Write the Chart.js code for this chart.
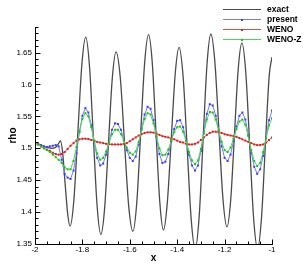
<!DOCTYPE html>
<html><head><meta charset="utf-8">
<script src="https://cdn.jsdelivr.net/npm/chart.js@4.4.1/dist/chart.umd.min.js"></script>
<style>
html,body{margin:0;padding:0;background:#fff;}
#wrap{position:relative;width:303px;height:268px;}
#c{position:absolute;left:0;top:0;}
.lg{position:absolute;font:bold 8.5px "Liberation Sans",Arial,sans-serif;color:#000;line-height:10px;white-space:nowrap;}
.ln{position:absolute;height:1px;}
.mk{position:absolute;width:2px;height:2px;}
</style></head>
<body><div id="wrap"><canvas id="c" width="303" height="268"></canvas><div id="legend"></div></div>
<script>
// ---- data ----
const seriesNames = ["exact", "present", "WENO", "WENO-Z"];
const xTicks = [-2, -1.8, -1.6, -1.4, -1.2, -1];
const yTicks = [1.35, 1.4, 1.45, 1.5, 1.55, 1.6, 1.65];

const exactX = [-2,-1.98,-1.96,-1.945,-1.93,-1.915,-1.905,-1.898,-1.893,-1.883,-1.873,-1.862,-1.852,
 -1.8355,-1.819,-1.8025,-1.786,-1.770,-1.754,-1.738,-1.722,-1.706,-1.690,-1.674,-1.658,
 -1.640,-1.6225,-1.605,-1.587,-1.5705,-1.554,-1.5375,-1.521,-1.505,-1.4895,-1.4735,-1.458,
 -1.4415,-1.425,-1.4085,-1.392,-1.375,-1.358,-1.341,-1.324,-1.3075,-1.291,-1.2745,-1.258,
 -1.241,-1.224,-1.207,-1.190,-1.17425,-1.1585,-1.14275,-1.127,-1.1105,-1.094,-1.0775,-1.061,
 -1.0445,-1.028,-1.0115,-1.0];
const exactY = [1.508,1.506,1.503,1.501,1.500,1.501,1.505,1.509,1.512,1.492,1.445,1.397,1.378,
 1.421,1.526,1.630,1.674,1.628,1.519,1.410,1.365,1.407,1.508,1.609,1.651,
 1.610,1.510,1.411,1.370,1.415,1.524,1.633,1.678,1.633,1.525,1.416,1.372,
 1.416,1.515,1.616,1.658,1.612,1.501,1.389,1.343,1.392,1.511,1.630,1.679,
 1.635,1.528,1.421,1.377,1.419,1.521,1.623,1.665,1.618,1.504,1.390,1.343,
 1.390,1.505,1.615,1.643];

const xGrid = [-2,-1.9875,-1.975,-1.9625,-1.95,-1.9375,-1.925,-1.9125,-1.9,-1.8875,
 -1.875,-1.8625,-1.85,-1.8375,-1.825,-1.8125,-1.8,-1.7875,-1.775,-1.7625,
 -1.75,-1.7375,-1.725,-1.7125,-1.7,-1.6875,-1.675,-1.6625,-1.65,-1.6375,
 -1.625,-1.6125,-1.6,-1.5875,-1.575,-1.5625,-1.55,-1.5375,-1.525,-1.5125,
 -1.5,-1.4875,-1.475,-1.4625,-1.45,-1.4375,-1.425,-1.4125,-1.4,-1.3875,
 -1.375,-1.3625,-1.35,-1.3375,-1.325,-1.3125,-1.3,-1.2875,-1.275,-1.2625,
 -1.25,-1.2375,-1.225,-1.2125,-1.2,-1.1875,-1.175,-1.1625,-1.15,-1.1375,
 -1.125,-1.1125,-1.1,-1.0875,-1.075,-1.0625,-1.05,-1.0375,-1.025,-1.0125,-1];

const present = [1.508,1.507,1.505,1.503,1.502,1.503,1.504,1.505,1.503,1.482,
 1.460,1.454,1.452,1.465,1.492,1.525,1.551,1.563,1.556,1.536,
 1.509,1.485,1.473,1.476,1.490,1.510,1.529,1.539,1.538,1.529,
 1.513,1.497,1.485,1.480,1.487,1.506,1.531,1.553,1.565,1.562,
 1.544,1.517,1.491,1.477,1.479,1.491,1.511,1.530,1.543,1.544,
 1.533,1.513,1.490,1.473,1.465,1.473,1.496,1.526,1.554,1.569,
 1.567,1.551,1.527,1.503,1.485,1.480,1.490,1.511,1.534,1.551,
 1.556,1.545,1.521,1.493,1.471,1.460,1.467,1.488,1.517,1.544,1.559];

const weno = [1.508,1.506,1.503,1.500,1.498,1.496,1.493,1.491,1.490,1.491,
 1.494,1.499,1.504,1.508,1.512,1.514,1.515,1.515,1.5145,1.513,
 1.512,1.510,1.509,1.508,1.507,1.5065,1.506,1.506,1.506,1.506,
 1.507,1.508,1.511,1.514,1.517,1.520,1.522,1.524,1.525,1.525,
 1.5245,1.523,1.521,1.519,1.518,1.517,1.515,1.514,1.512,1.510,
 1.509,1.507,1.506,1.506,1.507,1.509,1.513,1.517,1.521,1.524,
 1.526,1.526,1.525,1.524,1.522,1.521,1.520,1.519,1.518,1.516,
 1.514,1.512,1.510,1.508,1.506,1.505,1.505,1.506,1.509,1.513,1.517];

const wenoZ = [1.508,1.506,1.503,1.500,1.497,1.494,1.490,1.486,1.482,1.477,
 1.470,1.467,1.467,1.480,1.502,1.527,1.546,1.555,1.550,1.533,
 1.511,1.492,1.482,1.485,1.495,1.509,1.522,1.529,1.529,1.522,
 1.512,1.501,1.493,1.490,1.495,1.510,1.529,1.546,1.555,1.553,
 1.539,1.519,1.500,1.489,1.490,1.498,1.512,1.525,1.533,1.534,
 1.526,1.511,1.494,1.481,1.475,1.481,1.499,1.523,1.545,1.557,
 1.556,1.545,1.528,1.510,1.497,1.494,1.501,1.515,1.530,1.542,
 1.545,1.537,1.519,1.497,1.480,1.472,1.477,1.494,1.515,1.536,1.547];

// ---- styling ----
const colors = {
  exact: {line:'rgb(75,75,75)', pt:'rgb(75,75,75)'},
  present: {line:'rgb(120,120,255)', pt:'rgb(60,60,255)'},
  WENO: {line:'rgb(238,70,70)', pt:'rgb(220,30,30)'},
  'WENO-Z': {line:'rgb(70,220,70)', pt:'rgb(30,190,30)'}
};
const pairs = (xs, ys) => xs.map((x, i) => ({x, y: ys[i]}));

function ptDataset(label, ys, order){
  return {label, data: pairs(xGrid, ys), showLine:true, borderColor: colors[label].line,
    borderWidth:1, pointStyle:'rect', pointRadius:1.4, pointBorderWidth:0,
    pointBackgroundColor: colors[label].pt, tension:0, order};
}

const fmt = v => String(+(+v).toFixed(2));

const tecAxes = {
  id:'tecAxes',
  afterDraw(chart){
    const {ctx, chartArea:{left,right,top,bottom}, scales:{x,y}} = chart;
    const L = Math.round(left)+0.5, B = Math.round(bottom)+0.5;
    ctx.save();
    ctx.strokeStyle='#000'; ctx.lineWidth=1;
    ctx.beginPath();
    ctx.moveTo(L, Math.round(top)); ctx.lineTo(L, B); ctx.lineTo(Math.round(right)+1, B);
    ctx.stroke();
    ctx.beginPath();
    for (let k = 0; k <= 34; k++) {
      const v = 1.35 + k*0.01;
      const major = k % 5 === 0;
      const py = Math.round(y.getPixelForValue(v)) + 0.5;
      ctx.moveTo(L, py); ctx.lineTo(L + (major ? 5 : 3), py);
    }
    for (let k = 0; k <= 20; k++) {
      const v = -2 + k*0.05;
      const major = k % 4 === 0;
      const px = Math.round(x.getPixelForValue(v)) + 0.5;
      ctx.moveTo(px, B); ctx.lineTo(px, B - (major ? 5 : 3));
    }
    ctx.stroke();
    ctx.restore();
  }
};

new Chart(document.getElementById('c'), {
  type:'scatter',
  data:{datasets:[
    {label:'exact', data: pairs(exactX, exactY), showLine:true, borderColor: colors.exact.line,
     borderWidth:1.3, pointRadius:0, cubicInterpolationMode:'monotone', order:4},
    ptDataset('present', present, 3),
    ptDataset('WENO', weno, 2),
    ptDataset('WENO-Z', wenoZ, 1)
  ]},
  options:{
    responsive:false, animation:false, devicePixelRatio:1,
    layout:{padding:{top:27, right:31, left:0, bottom:0}},
    plugins:{legend:{display:false}, tooltip:{enabled:false}},
    scales:{
      x:{type:'linear', min:-2, max:-1,
        afterBuildTicks: s => { s.ticks = xTicks.map(v => ({value:v})); },
        afterFit: s => { s.height = 24; },
        grid:{display:false, drawTicks:false}, border:{display:false},
        ticks:{padding:1, color:'#000', font:{family:'"Liberation Sans", Arial, sans-serif', size:8}, callback: fmt, maxRotation:0, autoSkip:false},
        title:{display:true, text:'x', color:'#000', font:{family:'"Liberation Sans", Arial, sans-serif', size:10, weight:'bold'}, padding:{top:0,bottom:4}}
      },
      y:{type:'linear', min:1.35, max:1.69,
        afterBuildTicks: s => { s.ticks = yTicks.map(v => ({value:v})); },
        afterFit: s => { s.width = 35; },
        grid:{display:false, drawTicks:false}, border:{display:false},
        ticks:{padding:3, color:'#000', font:{family:'"Liberation Sans", Arial, sans-serif', size:8}, callback: fmt, autoSkip:false},
        title:{display:true, text:'rho', color:'#000', font:{family:'"Liberation Sans", Arial, sans-serif', size:10, weight:'bold'}, padding:{top:7,bottom:0}}
      }
    }
  },
  plugins:[tecAxes]
});

const lg = document.getElementById('legend');
seriesNames.forEach((name, i) => {
  const cy = 9 + i*10;
  const ln = document.createElement('div'); ln.className='ln';
  ln.style.left='223px'; ln.style.width='38px'; ln.style.top=(cy)+'px';
  ln.style.background = colors[name].line; lg.appendChild(ln);
  if (name !== 'exact') {
    const mk = document.createElement('div'); mk.className='mk';
    mk.style.left='241px'; mk.style.top=(cy)+'px'; mk.style.background=colors[name].pt;
    lg.appendChild(mk);
  }
  const t = document.createElement('div'); t.className='lg';
  t.style.left='267px'; t.style.top=(cy-5)+'px'; t.textContent = name;
  lg.appendChild(t);
});
</script>
</body></html>
